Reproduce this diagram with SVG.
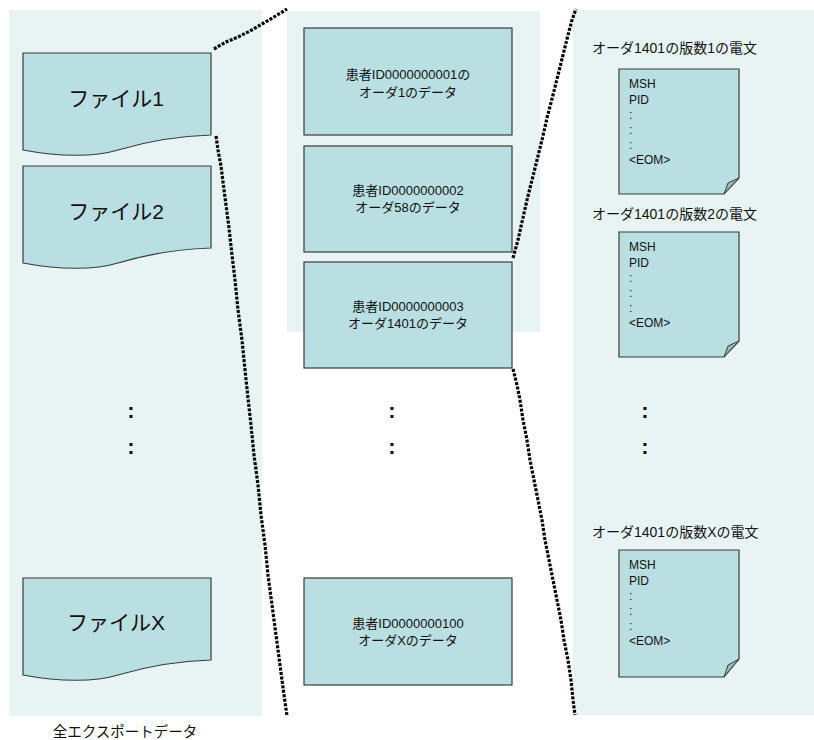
<svg xmlns="http://www.w3.org/2000/svg" width="814" height="740" viewBox="0 0 814 740">
<style>
.panel{fill:#e8f4f4;stroke:none}
.box{fill:#badfe2;stroke:#3a3a3a;stroke-width:1.2}
.flap{fill:#9ab8bc;stroke:#3a3a3a;stroke-width:1}
.t{font-family:"Liberation Sans","Noto Sans CJK JP",sans-serif;fill:#111}
.big{font-size:21px;text-anchor:middle}
.mid{font-size:13px;text-anchor:middle}
.ttl{font-size:14px}
.doc{font-size:12px}
.dots{font-size:22px;font-weight:bold;text-anchor:middle}
.conn{fill:none;stroke:#000;stroke-width:3.2;stroke-dasharray:3 1.5}
</style>
<rect id="panel-left" class="panel" x="9" y="10" width="253" height="706"/>
<rect id="panel-mid" class="panel" x="287" y="11" width="253" height="321"/>
<rect id="panel-right" class="panel" x="573" y="10" width="241" height="705"/>

<g id="file1">
<path class="box" d="M23,53 H211 V135 C175,136 145,142 118,150 C95,157 60,157 23,150 Z"/>
<text class="t big" x="116" y="106">ファイル1</text>
</g>
<g id="file2">
<path class="box" d="M23,166 H211 V248 C175,249 145,255 118,263 C95,270 60,270 23,263 Z"/>
<text class="t big" x="116" y="219">ファイル2</text>
</g>
<g id="fileX">
<path class="box" d="M23,578 H211 V660 C175,661 145,667 118,675 C95,682 60,682 23,675 Z"/>
<text class="t big" x="116" y="630">ファイルX</text>
</g>
<g id="dots-left">
<text class="t dots" x="131" y="418">:</text>
<text class="t dots" x="131" y="454">:</text>
</g>

<g id="rec1">
<rect class="box" x="304" y="28" width="208" height="107"/>
<text class="t mid" x="408" y="79">患者ID0000000001の</text>
<text class="t mid" x="408" y="97">オーダ1のデータ</text>
</g>
<g id="rec2">
<rect class="box" x="304" y="146" width="208" height="106"/>
<text class="t mid" x="408" y="195">患者ID0000000002</text>
<text class="t mid" x="408" y="212">オーダ58のデータ</text>
</g>
<g id="rec3">
<rect class="box" x="304" y="262" width="208" height="106"/>
<text class="t mid" x="408" y="311">患者ID0000000003</text>
<text class="t mid" x="408" y="328">オーダ1401のデータ</text>
</g>
<g id="recX">
<rect class="box" x="304" y="578" width="208" height="107"/>
<text class="t mid" x="408" y="628">患者ID0000000100</text>
<text class="t mid" x="408" y="645">オーダXのデータ</text>
</g>
<g id="dots-mid">
<text class="t dots" x="392" y="418">:</text>
<text class="t dots" x="392" y="454">:</text>
</g>

<g id="msg1">
<text class="t ttl" x="592" y="53">オーダ1401の版数1の電文</text>
<path class="box" d="M619,69 H739 V178 L724,194 H619 Z"/>
<path class="flap" d="M739,178 L724,194 L728,183 Z"/>
<text class="t doc" x="629" y="88">MSH</text>
<text class="t doc" x="629" y="104">PID</text>
<text class="t doc" x="629" y="119">:</text>
<text class="t doc" x="629" y="134">:</text>
<text class="t doc" x="629" y="149">:</text>
<text class="t doc" x="629" y="164">&lt;EOM&gt;</text>
</g>
<g id="msg2">
<text class="t ttl" x="592" y="219">オーダ1401の版数2の電文</text>
<path class="box" d="M619,232 H739 V341 L724,357 H619 Z"/>
<path class="flap" d="M739,341 L724,357 L728,346 Z"/>
<text class="t doc" x="629" y="251">MSH</text>
<text class="t doc" x="629" y="267">PID</text>
<text class="t doc" x="629" y="282">:</text>
<text class="t doc" x="629" y="297">:</text>
<text class="t doc" x="629" y="312">:</text>
<text class="t doc" x="629" y="327">&lt;EOM&gt;</text>
</g>
<g id="msgX">
<text class="t ttl" x="592" y="537">オーダ1401の版数Xの電文</text>
<path class="box" d="M619,550 H739 V659 L724,677 H619 Z"/>
<path class="flap" d="M739,659 L724,677 L728,665 Z"/>
<text class="t doc" x="629" y="569">MSH</text>
<text class="t doc" x="629" y="585">PID</text>
<text class="t doc" x="629" y="600">:</text>
<text class="t doc" x="629" y="615">:</text>
<text class="t doc" x="629" y="630">:</text>
<text class="t doc" x="629" y="645">&lt;EOM&gt;</text>
</g>
<g id="dots-right">
<text class="t dots" x="645" y="418">:</text>
<text class="t dots" x="645" y="454">:</text>
</g>

<text id="caption" class="t" x="125" y="737" font-size="14.5" text-anchor="middle">全エクスポートデータ</text>

<g id="connectors">
<polyline class="conn" points="214,49 226,42 238,37 250,31 262,24 274,17 287,9"/>
<polyline class="conn" points="216,136 218,150 221,166 223,182 226,205 229,228 232,255 235,280 238,310 242,340 245,370 248,398 251,425 254,455 258,485 261,515 265,545 268,575 272,605 276,635 280,665 284,695 287,716"/>
<polyline class="conn" points="513,258 518,240 522,222 527,200 532,180 537,160 542,140 547,118 553,95 558,75 563,55 568,35 572,20 576,9"/>
<polyline class="conn" points="513,369 517,385 520,400 523,420 527,440 530,460 534,480 538,500 542,520 545,540 549,560 553,580 557,600 561,620 564,640 568,660 571,680 573,700 575,715"/>
</g>
</svg>
